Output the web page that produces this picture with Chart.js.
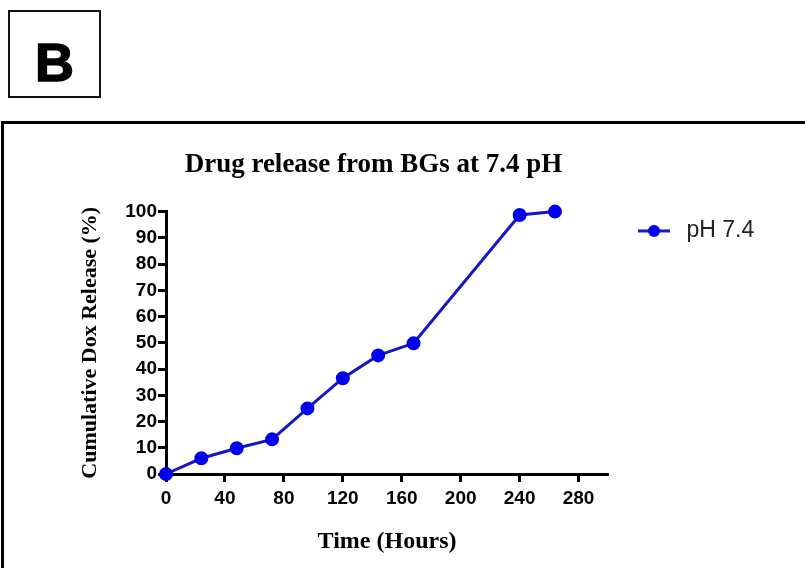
<!DOCTYPE html>
<html>
<head>
<meta charset="utf-8">
<script src="https://cdn.jsdelivr.net/npm/chart.js@4.4.1/dist/chart.umd.min.js"></script>
<style>
  body { margin: 0; background: #fff; overflow: hidden; width: 805px; height: 568px; position: relative; }
  #panelB { position: absolute; left: 8px; top: 10px; width: 89px; height: 84px; border: 2px solid #111; font: bold 54px 'Liberation Sans', Arial, sans-serif; -webkit-text-stroke: 1.5px #000; text-align: center; line-height: 100px; }
  #frame { position: absolute; left: 1px; top: 121px; width: 900px; height: 600px; border: 3px solid #000; }
  #wrap { position: absolute; left: -40px; top: 0; }
</style>
</head>
<body>
<div id="panelB">B</div>
<div id="frame"></div>
<div id="wrap"><canvas id="releaseChart" width="810" height="568"></canvas></div>
<script>
const hours = [0, 24, 48, 72, 96, 120, 144, 168, 240, 264]
const release = [0, 6, 9.8, 13.2, 25, 36.5, 45.2, 49.8, 98.7, 100]
const xTicks = [0, 40, 80, 120, 160, 200, 240, 280]
const yTicks = [0, 10, 20, 30, 40, 50, 60, 70, 80, 90, 100]

const lineBlue = '#1616c4'
const dotBlue = '#0000ee'

// little line+dot symbol for the legend
const legendMark = document.createElement('canvas')
legendMark.width = 37
legendMark.height = 14
const lm = legendMark.getContext('2d')
lm.strokeStyle = lineBlue
lm.lineWidth = 3
lm.beginPath()
lm.moveTo(0, 7)
lm.lineTo(32, 7)
lm.stroke()
lm.fillStyle = dotBlue
lm.beginPath()
lm.arc(16, 7, 6, 0, Math.PI * 2)
lm.fill()

const sans = "'Liberation Sans', Arial, sans-serif"
const serif = "'Liberation Serif', 'Times New Roman', serif"

new Chart('releaseChart', {
  type: 'line',
  data: {
    datasets: [
      {
        label: 'pH 7.4',
        data: hours.map((h, i) => ({ x: h, y: release[i] })),
        borderColor: lineBlue,
        borderWidth: 3,
        backgroundColor: dotBlue,
        pointBackgroundColor: dotBlue,
        pointBorderColor: dotBlue,
        pointRadius: 5.5,
        fill: false,
        tension: 0,
        clip: false,
      },
    ],
  },
  options: {
    responsive: false,
    animation: false,
    layout: { padding: { left: 22.7, right: 5.7, top: 148.4, bottom: 0 } },
    plugins: {
      title: {
        display: true,
        text: 'Drug release from BGs at 7.4 pH',
        color: '#000',
        font: { family: serif, size: 27, weight: 'bold' },
        padding: { top: 0, bottom: 30.8 },
      },
      legend: {
        position: 'right',
        align: 'start',
        title: { display: true, text: '', font: { size: 10 }, padding: { top: 29, bottom: 0 } },
        labels: {
          usePointStyle: true,
          pointStyleWidth: 37,
          padding: 30,
          color: '#222',
          font: { family: sans, size: 23 },
          generateLabels: (chart) => [
            { text: 'pH 7.4', pointStyle: legendMark, fontColor: '#222', datasetIndex: 0 },
          ],
        },
      },
      tooltip: { enabled: false },
    },
    scales: {
      x: {
        type: 'linear',
        min: 0,
        max: 300,
        afterFit: (scale) => { scale.height = 94 },
        afterBuildTicks: (scale) => { scale.ticks = xTicks.map((v) => ({ value: v })) },
        border: { color: '#000', width: 3 },
        grid: { drawOnChartArea: false, tickLength: 8, tickWidth: 3, tickColor: '#000' },
        ticks: { color: '#000', padding: 5, font: { family: sans, size: 19, weight: 'bold' } },
        title: {
          display: true,
          text: 'Time (Hours)',
          color: '#000',
          font: { family: serif, size: 24, weight: 'bold' },
          padding: { top: 0, bottom: 11.6 },
        },
      },
      y: {
        min: 0,
        max: 100,
        afterFit: (scale) => { scale.width = 183.3 },
        afterBuildTicks: (scale) => { scale.ticks = yTicks.map((v) => ({ value: v })) },
        border: { color: '#000', width: 3 },
        grid: { drawOnChartArea: false, tickLength: 8, tickWidth: 3, tickColor: '#000' },
        ticks: { color: '#000', padding: 1, font: { family: sans, size: 19, weight: 'bold' } },
        title: {
          display: true,
          text: 'Cumulative Dox Release (%)',
          color: '#000',
          font: { family: serif, size: 22, weight: 'bold' },
          padding: { top: 94.1, bottom: 0 },
        },
      },
    },
  },
})
</script>
</body>
</html>
